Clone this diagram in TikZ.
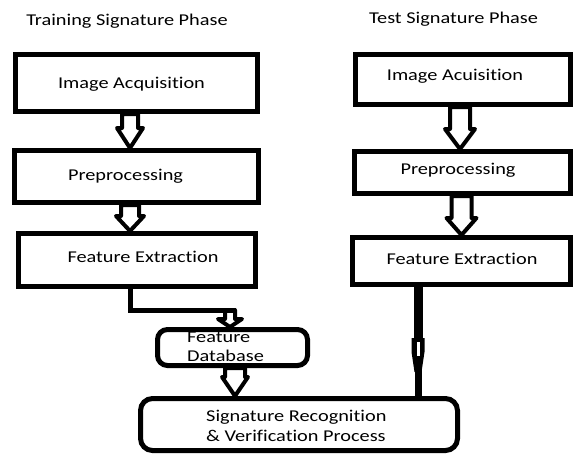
\documentclass[tikz,border=0pt]{standalone}
\usepackage{fontspec}
\setmainfont{Carlito}[FakeStretch=1.23, RawFeature={-liga;-clig;-calt;-dlig}]
\usetikzlibrary{calc}
\pgfdeclarelayer{background}
\pgfsetlayers{background,main}
\newcommand\blockarr[6]{% from, to, x offset (rel. to #2), shaft half, head half, head length
  \begin{pgfonlayer}{background}
  \draw[barrow] let \p1=#1, \p2=#2 in
    (\x2+#3pt-#4pt,\y1) -- (\x2+#3pt-#4pt,\y2+#6pt) -- (\x2+#3pt-#5pt,\y2+#6pt) --
    (\x2+#3pt,\y2) -- (\x2+#3pt+#5pt,\y2+#6pt) -- (\x2+#3pt+#4pt,\y2+#6pt) --
    (\x2+#3pt+#4pt,\y1) -- cycle;
  \end{pgfonlayer}}
\begin{document}
\begin{tikzpicture}[x=1pt,y=-1pt,
  box/.style={draw, line width=5pt, rectangle, inner sep=0pt},
  rbox/.style={box, rounded corners=#1},
  txt/.style={inner sep=0pt, font=\fontsize{16.5}{19.5}\selectfont, text=black},
  barrow/.style={draw, fill=white, line width=4pt, line join=round},
  conn/.style={draw, line width=5pt}]
\useasboundingbox (0,0) rectangle (574,456);
% titles
\node[txt] (t1) at (127,21) {Training Signature Phase};
\node[txt] (t2) at (453.5,19) {Test Signature Phase};
% left column
\node[box, minimum width=242pt, minimum height=57pt] (L1) at (136.5,83) {};
\node[box, minimum width=244pt, minimum height=52pt] (L2) at (136.5,176.5) {};
\node[box, minimum width=237pt, minimum height=53pt] (L3) at (137,260) {};
\node[txt] (l1t) at (131.5,84) {Image Acquisition};
\node[txt] (l2t) at (125.5,176) {Preprocessing};
\node[txt] (l3t) at (143,257) {Feature Extraction};
% right column
\node[box, minimum width=215pt, minimum height=50pt] (R1) at (463,79.5) {};
\node[box, minimum width=216pt, minimum height=42pt] (R2) at (462.5,172.5) {};
\node[box, minimum width=218pt, minimum height=47pt] (R3) at (461.5,261) {};
\node[txt] (r1t) at (455,76) {Image Acuisition};
\node[txt] (r2t) at (458,170) {Preprocessing};
\node[txt] (r3t) at (462,259) {Feature Extraction};
% database and final box
\node[rbox=10pt, minimum width=150pt, minimum height=36pt] (DB) at (232.5,347.5) {};
\node[txt, anchor=west, align=left] (dbt) at (187,347) {Feature\\Database};
\node[rbox=12pt, minimum width=317pt, minimum height=52pt] (B) at (299,424.5) {};
\node[txt, anchor=west, align=left] (bt) at (206,426) {Signature Recognition\\\& Verification Process};
% block arrows
\blockarr{(L1.south)}{(L2.north)}{-6.5}{8}{13}{20}
\blockarr{(L2.south)}{(L3.north)}{-7}{9}{14}{15}
\blockarr{(R1.south)}{(R2.north)}{-2.5}{10}{15}{20}
\blockarr{(R2.south)}{(R3.north)}{0}{10}{15}{17}
\blockarr{(DB.south)}{(B.north)}{-64}{10}{13}{19}
% left connector to database
\coordinate (j) at (230,310);
\draw[conn] ($(L3.south)+(-7,0)$) |- ($(j)+(6,0)$);
\blockarr{(j)}{(DB.north)}{-2.5}{5}{12}{8}
% right connector to final box
\coordinate (rc) at (418,340);
\draw[line width=9pt] (R3.south -| rc) -- (rc);
\draw[line width=7pt] (rc) -- (B.north -| rc);
\fill[black] (411.5,338) -- (424.5,338) -- (424.5,352) -- (421.5,372) -- (414.5,372) -- (411.5,352) -- cycle;
\fill[white] (417,342) rectangle (419.5,356);
\end{tikzpicture}
\end{document}
